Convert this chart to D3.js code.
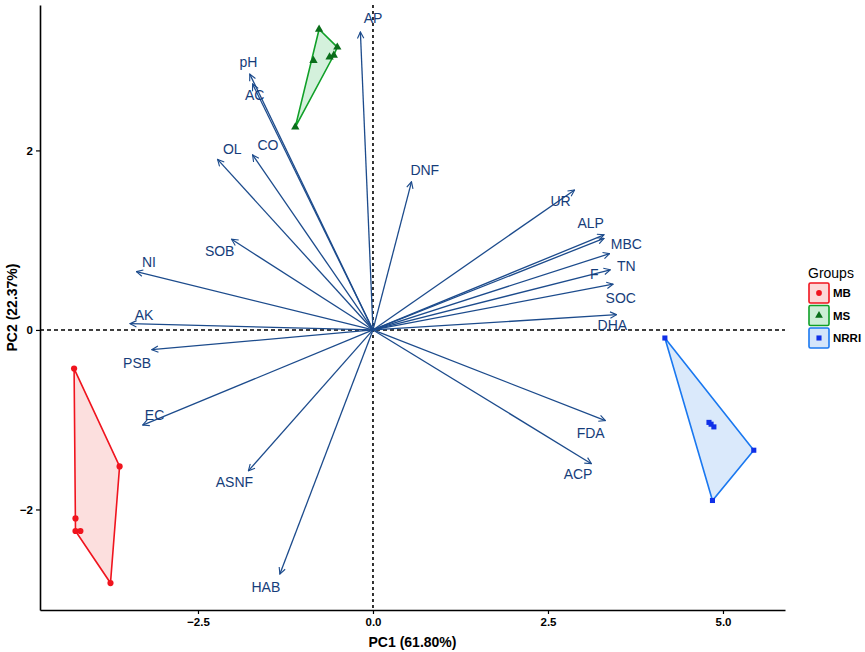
<!DOCTYPE html>
<html>
<head>
<meta charset="utf-8">
<script src="https://cdn.jsdelivr.net/npm/d3@7"></script>
<style>
  body { margin: 0; background: #fff; }
  text { font-family: "Liberation Sans", Arial, sans-serif; }
</style>
</head>
<body>
<svg id="biplot" width="865" height="652"></svg>
<script>
// variable loadings (arrow tips) and where their labels sit, in PC units
const varNames = ["pH","AC","OL","CO","SOB","NI","AK","PSB","EC","ASNF","HAB","AP","DNF","UR","ALP","MBC","TN","F","SOC","DHA","FDA","ACP"];
const tipX = [-1.76,-1.72,-2.22,-1.72,-2.02,-3.38,-3.47,-3.16,-3.29,-1.78,-1.33,-0.18,0.55,2.88,3.30,3.30,3.38,3.39,3.43,3.48,3.32,3.12];
const tipY = [2.85,2.74,1.90,1.95,1.01,0.65,0.07,-0.22,-1.06,-1.57,-2.72,3.32,1.65,1.56,1.06,1.02,0.85,0.67,0.51,0.17,-1.01,-1.49];
const labX = [-1.78,-1.69,-2.01,-1.50,-2.19,-3.20,-3.27,-3.37,-3.12,-1.98,-1.53,0.00,0.74,2.68,3.11,3.62,3.62,3.16,3.54,3.42,3.11,2.93];
const labY = [2.98,2.62,2.01,2.06,0.88,0.76,0.17,-0.37,-0.95,-1.70,-2.86,3.47,1.78,1.43,1.19,0.96,0.71,0.62,0.36,0.05,-1.15,-1.61];

// sample scores per group
const groups = ["MB","MS","NRRI"];
const mbX = [-4.27,-4.25,-4.25,-4.18,-3.62,-3.75];
const mbY = [-0.43,-2.10,-2.24,-2.24,-1.52,-2.82];
const msX = [-0.77,-0.51,-0.56,-0.62,-0.85,-1.11];
const msY = [3.35,3.15,3.06,3.04,3.00,2.26];
const nrX = [4.17,5.44,4.85,4.80,4.87,4.83];
const nrY = [-0.09,-1.34,-1.90,-1.03,-1.08,-1.05];

const xTicks = [-2.5, 0, 2.5, 5];
const yTicks = [-2, 0, 2];

const colors = { MB: "#f0141e", MS: "#10a028", NRRI: "#1a78f0" };
const fills = { MB: "#fcd9d8", MS: "#cdeed6", NRRI: "#d4e5fa" };
const pointCol = { MB: "#f0141e", MS: "#0a6e1a", NRRI: "#1030e8" };
const shapes = { MB: d3.symbolCircle, MS: d3.symbolTriangle, NRRI: d3.symbolSquare };

const arrowCol = "#1c4b8c";
const labelCol = "#163d7a";

const svg = d3.select("#biplot");
const pLeft = 40, pRight = 785, pTop = 5, pBottom = 610;

let x = d3.scaleLinear().domain([-4.757, 5.886]).range([pLeft, pRight]);
let y = d3.scaleLinear().domain([-3.12, 3.62]).range([pBottom, pTop]);

// arrow head
svg.append("defs").append("marker")
    .attr("id", "head")
    .attr("viewBox", "0 0 10 10")
    .attr("refX", 9).attr("refY", 5)
    .attr("markerWidth", 8).attr("markerHeight", 8)
    .attr("markerUnits", "userSpaceOnUse")
    .attr("orient", "auto")
    .append("path")
    .attr("d", "M1,1 L9,5 L1,9")
    .attr("fill", "none")
    .attr("stroke", arrowCol)
    .attr("stroke-width", 1.4);

// zero lines
svg.append("line")
    .attr("x1", pLeft).attr("x2", pRight)
    .attr("y1", y(0)).attr("y2", y(0))
    .attr("stroke", "#000").attr("stroke-width", 1.6)
    .attr("stroke-dasharray", "4,3");
svg.append("line")
    .attr("x1", x(0)).attr("x2", x(0))
    .attr("y1", pTop).attr("y2", pBottom)
    .attr("stroke", "#000").attr("stroke-width", 1.6)
    .attr("stroke-dasharray", "3,3");

// convex hulls + points for each group
let groupData = {
    MB: mbX.map((v, i) => [v, mbY[i]]),
    MS: msX.map((v, i) => [v, msY[i]]),
    NRRI: nrX.map((v, i) => [v, nrY[i]])
};

groups.forEach(g => {
    let pts = groupData[g].map(d => [x(d[0]), y(d[1])]);
    let hull = d3.polygonHull(pts);
    svg.append("path")
        .attr("d", "M" + hull.join("L") + "Z")
        .attr("fill", fills[g])
        .attr("fill-opacity", 0.85)
        .attr("stroke", colors[g])
        .attr("stroke-width", 1.6);
    svg.append("g").selectAll("path")
        .data(pts)
        .join("path")
        .attr("transform", d => "translate(" + d[0] + "," + d[1] + ")")
        .attr("d", d3.symbol().type(shapes[g]).size(g == "NRRI" ? 26 : 30))
        .attr("fill", pointCol[g]);
});

// variable arrows
svg.append("g").selectAll("line")
    .data(varNames)
    .join("line")
    .attr("x1", x(0)).attr("y1", y(0))
    .attr("x2", (d, i) => x(tipX[i]))
    .attr("y2", (d, i) => y(tipY[i]))
    .attr("stroke", arrowCol)
    .attr("stroke-width", 1.3)
    .attr("marker-end", "url(#head)");

svg.append("g").selectAll("text")
    .data(varNames)
    .join("text")
    .attr("x", (d, i) => x(labX[i]))
    .attr("y", (d, i) => y(labY[i]))
    .attr("dy", "0.35em")
    .attr("text-anchor", "middle")
    .attr("font-size", "14px")
    .attr("fill", labelCol)
    .text(d => d);

// axes
let xAxis = svg.append("g")
    .attr("transform", "translate(0," + pBottom + ")")
    .call(d3.axisBottom(x).tickValues(xTicks).tickFormat(d3.format(".1f")).tickSize(4).tickSizeOuter(0));
let yAxis = svg.append("g")
    .attr("transform", "translate(" + pLeft + ",0)")
    .call(d3.axisLeft(y).tickValues(yTicks).tickFormat(d3.format("d")).tickSize(4).tickSizeOuter(0));

[xAxis, yAxis].forEach(a => {
    a.select(".domain").attr("stroke", "#000").attr("stroke-width", 1.6);
    a.selectAll(".tick line").attr("stroke", "#000").attr("stroke-width", 1.2);
    a.selectAll(".tick text")
        .attr("fill", "#000")
        .attr("font-size", "11.5px")
        .attr("font-weight", "bold")
        .attr("font-family", "Liberation Sans, Arial, sans-serif");
});
xAxis.selectAll(".tick text").attr("dy", "0.8em");

svg.append("text")
    .attr("x", (pLeft + pRight) / 2)
    .attr("y", 647)
    .attr("text-anchor", "middle")
    .attr("font-size", "14px")
    .attr("font-weight", "bold")
    .text("PC1 (61.80%)");

svg.append("text")
    .attr("transform", "translate(17," + (pTop + pBottom) / 2 + ") rotate(-90)")
    .attr("text-anchor", "middle")
    .attr("font-size", "14px")
    .attr("font-weight", "bold")
    .text("PC2 (22.37%)");

// legend
let legend = svg.append("g").attr("transform", "translate(809,0)");
legend.append("text")
    .attr("x", -1).attr("y", 278)
    .attr("font-size", "14px")
    .text("Groups");

groups.forEach((g, i) => {
    let ky = 283 + i * 22.5;
    legend.append("rect")
        .attr("x", 0).attr("y", ky)
        .attr("width", 20).attr("height", 20)
        .attr("rx", 1.5)
        .attr("fill", fills[g])
        .attr("stroke", colors[g])
        .attr("stroke-width", 1.6);
    legend.append("path")
        .attr("transform", "translate(10," + (ky + 10) + ")")
        .attr("d", d3.symbol().type(shapes[g]).size(26))
        .attr("fill", pointCol[g]);
    legend.append("text")
        .attr("x", 24).attr("y", ky + 10)
        .attr("dy", "0.35em")
        .attr("font-size", "11.5px")
        .attr("font-weight", "bold")
        .text(g);
});
</script>
</body>
</html>
